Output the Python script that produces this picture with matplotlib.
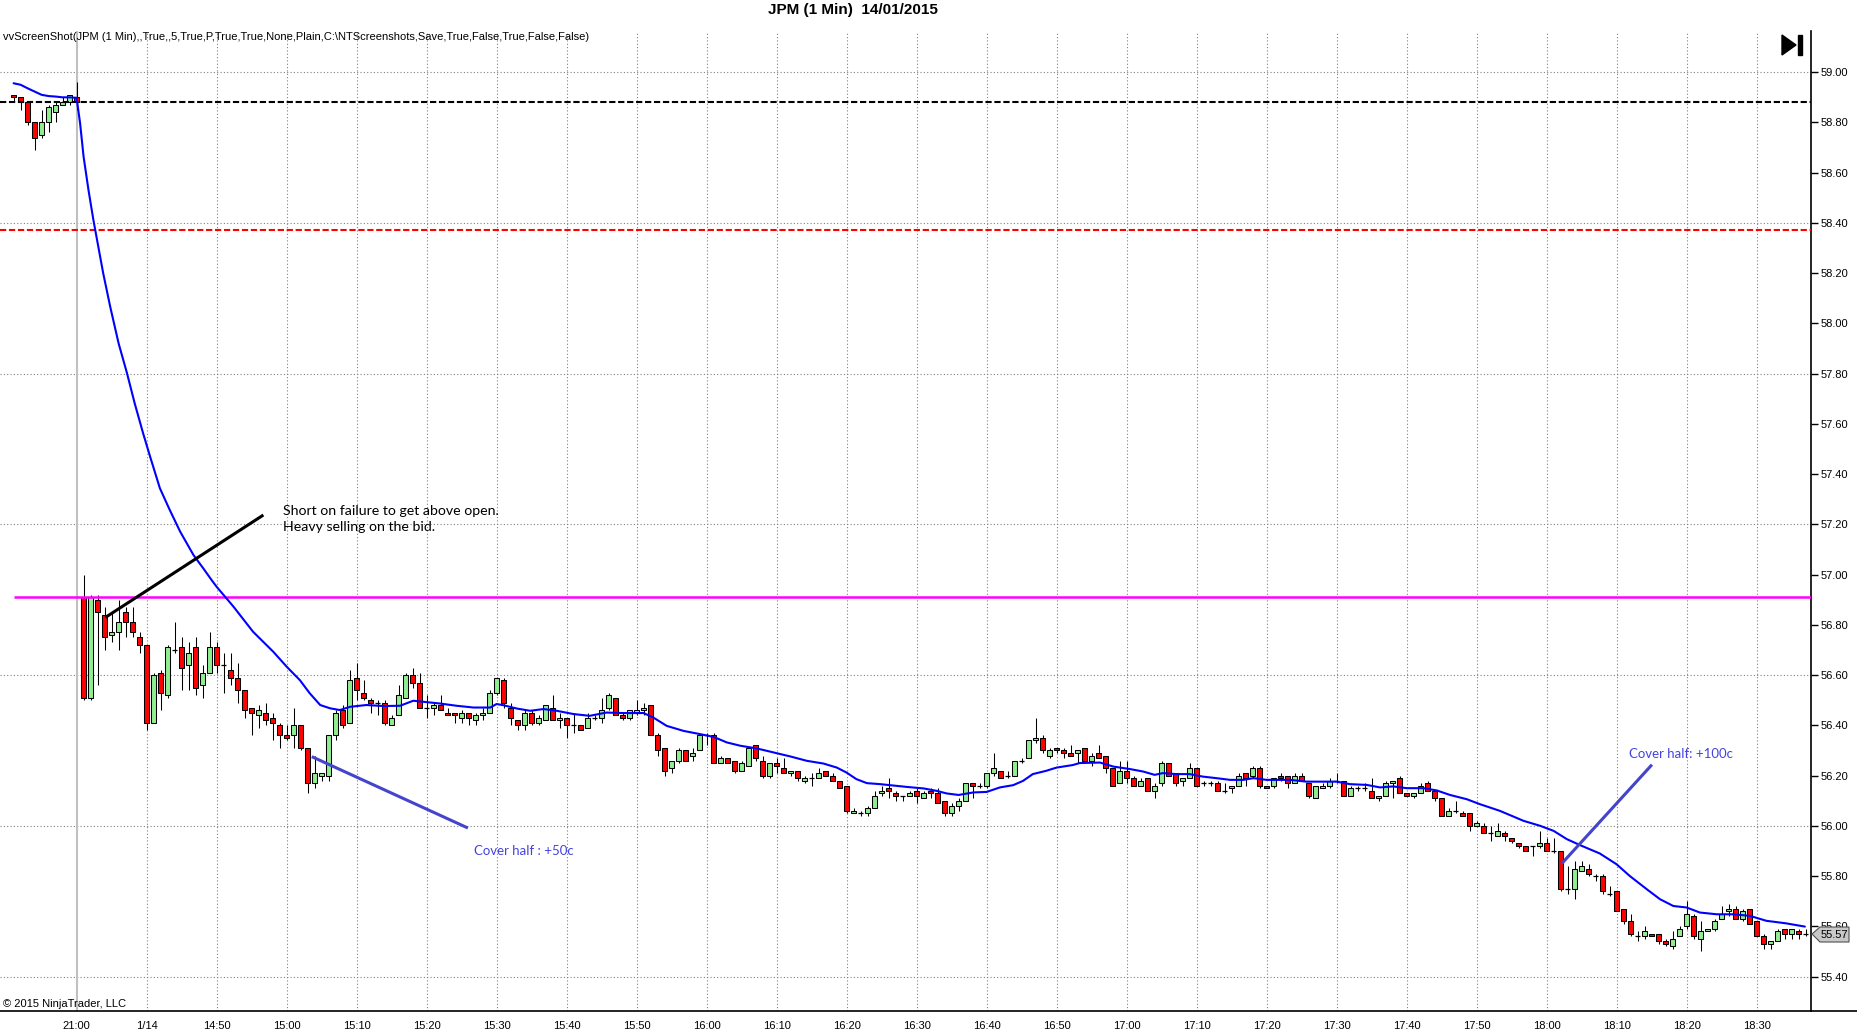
import numpy as np
import matplotlib
matplotlib.use("Agg")
import matplotlib.pyplot as plt
from matplotlib.patches import Polygon, Rectangle
from matplotlib.lines import Line2D

# === Data: JPM 1 min bars (bar 0 = 21:00 previous day, bar 1 = 14:31) ===
first_bar = -9
opens = [58.91, 58.90, 58.88, 58.80, 58.75, 58.80, 58.84, 58.87, 58.88, 58.90,
         56.91, 56.51, 56.90, 56.84, 56.76, 56.77, 56.85, 56.81, 56.75, 56.72,
         56.41, 56.61, 56.52, 56.70, 56.71, 56.64, 56.71, 56.56, 56.61, 56.71,
         56.64, 56.62, 56.59, 56.54, 56.47, 56.44, 56.45, 56.43, 56.40, 56.36,
         56.36, 56.40, 56.31, 56.17, 56.20, 56.20, 56.36, 56.46, 56.41, 56.59,
         56.53, 56.50, 56.49, 56.49, 56.40, 56.44, 56.51, 56.60, 56.57, 56.47,
         56.47, 56.48, 56.45, 56.45, 56.43, 56.45, 56.42, 56.44, 56.45, 56.53,
         56.58, 56.47, 56.42, 56.40, 56.45, 56.41, 56.42, 56.47, 56.42, 56.43,
         56.40, 56.40, 56.39, 56.43, 56.43, 56.47, 56.51, 56.44, 56.43, 56.45,
         56.46, 56.48, 56.36, 56.31, 56.23, 56.26, 56.30, 56.28, 56.30, 56.36,
         56.36, 56.25, 56.27, 56.26, 56.22, 56.24, 56.32, 56.26, 56.20, 56.25,
         56.23, 56.21, 56.22, 56.18, 56.19, 56.19, 56.22, 56.20, 56.18, 56.16,
         56.05, 56.05, 56.05, 56.07, 56.13, 56.15, 56.13, 56.12, 56.12, 56.14,
         56.11, 56.14, 56.13, 56.10, 56.05, 56.08, 56.10, 56.17, 56.16, 56.16,
         56.21, 56.22, 56.20, 56.20, 56.26, 56.27, 56.34, 56.35, 56.28, 56.31,
         56.30, 56.29, 56.29, 56.31, 56.26, 56.29, 56.28, 56.23, 56.17, 56.22,
         56.19, 56.16, 56.19, 56.14, 56.17, 56.25, 56.21, 56.18, 56.19, 56.23,
         56.17, 56.17, 56.17, 56.14, 56.15, 56.16, 56.21, 56.20, 56.23, 56.16,
         56.16, 56.20, 56.20, 56.17, 56.20, 56.17, 56.11, 56.15, 56.16, 56.18,
         56.18, 56.12, 56.15, 56.15, 56.14, 56.11, 56.12, 56.17, 56.19, 56.13,
         56.12, 56.13, 56.17, 56.14, 56.11, 56.04, 56.06, 56.05, 56.05, 56.00,
         56.00, 55.97, 55.96, 55.97, 55.95, 55.93, 55.92, 55.92, 55.92, 55.93,
         55.90, 55.90, 55.75, 55.75, 55.82, 55.83, 55.80, 55.80, 55.73, 55.74,
         55.67, 55.62, 55.56, 55.56, 55.57, 55.57, 55.54, 55.52, 55.56, 55.60,
         55.64, 55.55, 55.58, 55.59, 55.63, 55.66, 55.67, 55.63, 55.67, 55.62,
         55.56, 55.53, 55.54, 55.59, 55.57, 55.58, 55.57]
highs = [58.91, 58.90, 58.88, 58.80, 58.85, 58.87, 58.88, 58.90, 58.91, 58.96,
         57.00, 56.92, 56.92, 56.87, 56.85, 56.90, 56.87, 56.87, 56.77, 56.72,
         56.61, 56.62, 56.72, 56.81, 56.75, 56.73, 56.75, 56.64, 56.77, 56.73,
         56.69, 56.69, 56.65, 56.54, 56.47, 56.48, 56.49, 56.45, 56.41, 56.40,
         56.47, 56.40, 56.31, 56.28, 56.21, 56.36, 56.46, 56.48, 56.62, 56.65,
         56.58, 56.51, 56.50, 56.50, 56.44, 56.56, 56.61, 56.63, 56.61, 56.52,
         56.49, 56.52, 56.47, 56.45, 56.46, 56.45, 56.45, 56.47, 56.54, 56.59,
         56.59, 56.49, 56.42, 56.46, 56.46, 56.44, 56.48, 56.52, 56.45, 56.43,
         56.45, 56.40, 56.45, 56.44, 56.51, 56.53, 56.51, 56.45, 56.46, 56.50,
         56.49, 56.48, 56.37, 56.31, 56.26, 56.31, 56.30, 56.31, 56.36, 56.37,
         56.37, 56.28, 56.27, 56.26, 56.26, 56.31, 56.32, 56.28, 56.25, 56.27,
         56.27, 56.22, 56.22, 56.20, 56.21, 56.23, 56.22, 56.21, 56.18, 56.16,
         56.07, 56.06, 56.08, 56.14, 56.16, 56.19, 56.14, 56.12, 56.14, 56.15,
         56.14, 56.15, 56.15, 56.10, 56.09, 56.11, 56.17, 56.17, 56.17, 56.21,
         56.29, 56.22, 56.22, 56.26, 56.27, 56.34, 56.43, 56.36, 56.31, 56.31,
         56.31, 56.32, 56.30, 56.31, 56.29, 56.32, 56.28, 56.23, 56.26, 56.26,
         56.20, 56.19, 56.19, 56.17, 56.26, 56.25, 56.21, 56.19, 56.25, 56.23,
         56.18, 56.18, 56.18, 56.17, 56.16, 56.21, 56.21, 56.24, 56.24, 56.16,
         56.19, 56.21, 56.20, 56.21, 56.21, 56.17, 56.16, 56.17, 56.19, 56.21,
         56.18, 56.16, 56.16, 56.17, 56.19, 56.12, 56.18, 56.18, 56.20, 56.13,
         56.13, 56.17, 56.18, 56.14, 56.11, 56.07, 56.10, 56.06, 56.05, 56.02,
         56.01, 56.00, 56.01, 55.98, 55.95, 55.93, 55.92, 55.92, 55.98, 55.95,
         55.95, 55.90, 55.84, 55.86, 55.86, 55.85, 55.81, 55.81, 55.76, 55.74,
         55.67, 55.65, 55.58, 55.60, 55.57, 55.57, 55.55, 55.58, 55.60, 55.70,
         55.65, 55.62, 55.59, 55.63, 55.68, 55.69, 55.68, 55.67, 55.67, 55.62,
         55.57, 55.54, 55.59, 55.59, 55.59, 55.59, 55.59]
lows = [58.88, 58.85, 58.79, 58.69, 58.74, 58.76, 58.80, 58.87, 58.87, 58.85,
        56.50, 56.50, 56.56, 56.70, 56.73, 56.70, 56.75, 56.75, 56.69, 56.38,
        56.41, 56.46, 56.51, 56.69, 56.54, 56.54, 56.52, 56.51, 56.61, 56.61,
        56.53, 56.56, 56.49, 56.43, 56.36, 56.39, 56.40, 56.34, 56.31, 56.34,
        56.31, 56.30, 56.13, 56.15, 56.18, 56.18, 56.34, 56.39, 56.41, 56.50,
        56.50, 56.45, 56.44, 56.40, 56.40, 56.44, 56.51, 56.55, 56.47, 56.43,
        56.44, 56.46, 56.44, 56.41, 56.41, 56.40, 56.40, 56.42, 56.45, 56.52,
        56.47, 56.40, 56.38, 56.38, 56.40, 56.40, 56.42, 56.42, 56.39, 56.35,
        56.37, 56.38, 56.39, 56.42, 56.41, 56.46, 56.44, 56.42, 56.42, 56.44,
        56.44, 56.36, 56.28, 56.20, 56.21, 56.25, 56.26, 56.26, 56.30, 56.32,
        56.25, 56.25, 56.25, 56.21, 56.22, 56.24, 56.26, 56.19, 56.19, 56.21,
        56.21, 56.20, 56.18, 56.17, 56.16, 56.19, 56.20, 56.18, 56.15, 56.05,
        56.05, 56.04, 56.04, 56.07, 56.12, 56.11, 56.10, 56.10, 56.12, 56.09,
        56.11, 56.11, 56.09, 56.04, 56.04, 56.06, 56.10, 56.11, 56.15, 56.15,
        56.20, 56.19, 56.19, 56.20, 56.25, 56.27, 56.33, 56.29, 56.27, 56.29,
        56.27, 56.28, 56.25, 56.26, 56.24, 56.27, 56.21, 56.16, 56.17, 56.17,
        56.16, 56.16, 56.14, 56.11, 56.16, 56.20, 56.16, 56.16, 56.19, 56.16,
        56.16, 56.16, 56.14, 56.13, 56.13, 56.16, 56.16, 56.19, 56.15, 56.15,
        56.15, 56.18, 56.15, 56.17, 56.18, 56.11, 56.11, 56.15, 56.15, 56.17,
        56.12, 56.12, 56.14, 56.14, 56.11, 56.10, 56.12, 56.11, 56.13, 56.12,
        56.11, 56.13, 56.14, 56.10, 56.04, 56.04, 56.05, 56.04, 55.98, 56.00,
        55.97, 55.94, 55.96, 55.94, 55.93, 55.91, 55.90, 55.88, 55.91, 55.90,
        55.89, 55.74, 55.73, 55.71, 55.82, 55.80, 55.78, 55.73, 55.72, 55.66,
        55.61, 55.56, 55.54, 55.55, 55.56, 55.53, 55.52, 55.51, 55.56, 55.59,
        55.55, 55.50, 55.58, 55.58, 55.63, 55.64, 55.63, 55.62, 55.61, 55.56,
        55.51, 55.51, 55.54, 55.55, 55.55, 55.55, 55.56]
closes = [58.90, 58.88, 58.80, 58.74, 58.80, 58.86, 58.87, 58.88, 58.91, 58.88,
          56.51, 56.91, 56.85, 56.75, 56.77, 56.81, 56.81, 56.77, 56.72, 56.41,
          56.60, 56.53, 56.71, 56.70, 56.63, 56.69, 56.55, 56.61, 56.71, 56.64,
          56.64, 56.59, 56.54, 56.46, 56.45, 56.46, 56.42, 56.41, 56.36, 56.35,
          56.40, 56.31, 56.17, 56.21, 56.21, 56.36, 56.45, 56.40, 56.58, 56.54,
          56.51, 56.49, 56.49, 56.41, 56.43, 56.52, 56.60, 56.57, 56.47, 56.47,
          56.48, 56.46, 56.44, 56.44, 56.45, 56.43, 56.44, 56.45, 56.53, 56.59,
          56.49, 56.43, 56.40, 56.45, 56.41, 56.43, 56.48, 56.42, 56.43, 56.40,
          56.40, 56.38, 56.43, 56.43, 56.46, 56.52, 56.44, 56.43, 56.46, 56.46,
          56.47, 56.36, 56.30, 56.22, 56.26, 56.30, 56.26, 56.29, 56.36, 56.36,
          56.25, 56.27, 56.25, 56.22, 56.25, 56.31, 56.27, 56.20, 56.25, 56.24,
          56.21, 56.22, 56.19, 56.19, 56.19, 56.21, 56.20, 56.18, 56.15, 56.06,
          56.06, 56.05, 56.07, 56.12, 56.14, 56.14, 56.12, 56.12, 56.13, 56.12,
          56.13, 56.13, 56.09, 56.05, 56.08, 56.10, 56.17, 56.16, 56.16, 56.21,
          56.23, 56.19, 56.20, 56.26, 56.26, 56.34, 56.35, 56.30, 56.30, 56.30,
          56.29, 56.28, 56.30, 56.26, 56.28, 56.27, 56.23, 56.16, 56.22, 56.19,
          56.16, 56.18, 56.14, 56.16, 56.25, 56.20, 56.17, 56.19, 56.23, 56.16,
          56.17, 56.17, 56.14, 56.14, 56.16, 56.20, 56.19, 56.23, 56.16, 56.15,
          56.19, 56.19, 56.17, 56.20, 56.18, 56.12, 56.16, 56.16, 56.18, 56.18,
          56.12, 56.15, 56.15, 56.15, 56.11, 56.12, 56.17, 56.18, 56.13, 56.12,
          56.13, 56.16, 56.14, 56.11, 56.04, 56.06, 56.06, 56.04, 56.00, 56.01,
          55.97, 55.97, 55.98, 55.96, 55.94, 55.92, 55.90, 55.92, 55.93, 55.90,
          55.90, 55.75, 55.75, 55.83, 55.84, 55.81, 55.80, 55.74, 55.73, 55.66,
          55.62, 55.57, 55.56, 55.58, 55.56, 55.54, 55.53, 55.55, 55.59, 55.65,
          55.56, 55.58, 55.59, 55.62, 55.65, 55.67, 55.63, 55.66, 55.61, 55.56,
          55.53, 55.54, 55.58, 55.57, 55.59, 55.57, 55.57]

# moving average: (bar, price)
ma_points = [(-9, 58.956), (-8, 58.95), (-7, 58.936), (-6, 58.923), (-5, 58.91),
             (-4, 58.905), (-3, 58.903), (-2, 58.90), (-1, 58.90), (0, 58.898),
             (0.5, 58.797), (1.0, 58.664), (1.7, 58.531), (2.4, 58.412),
             (3.1, 58.306), (3.8, 58.20), (4.8, 58.067), (6.0, 57.921),
             (7.2, 57.802), (8.3, 57.682), (9.5, 57.563), (10.5, 57.47),
             (11.9, 57.344), (13.3, 57.258), (14.8, 57.171), (16.7, 57.078),
             (18.1, 57.025), (19.3, 56.978), (20.0, 56.952), (22.4, 56.873),
             (25.2, 56.773), (28.1, 56.693), (30.0, 56.634), (31.9, 56.58),
             (33.3, 56.528), (34.8, 56.481), (36.2, 56.468), (37.6, 56.461),
             (39.1, 56.474), (41.4, 56.481), (43.8, 56.477), (46.2, 56.478),
             (48.1, 56.498), (49.5, 56.494), (51.9, 56.487), (54.3, 56.478),
             (56.7, 56.471), (59.1, 56.471), (60.0, 56.485), (61.0, 56.48),
             (62.9, 56.467), (64.8, 56.458), (66.7, 56.465), (68.6, 56.458),
             (71.0, 56.445), (73.3, 56.438), (75.7, 56.451), (78.1, 56.449),
             (81.0, 56.449), (82.4, 56.431), (84.3, 56.398), (86.7, 56.378),
             (89.1, 56.365), (91.0, 56.354), (92.9, 56.332), (94.8, 56.319),
             (97.2, 56.308), (99.6, 56.292), (102.0, 56.276), (104.3, 56.259),
             (106.7, 56.248), (108.6, 56.232), (110.0, 56.212), (111.4, 56.186),
             (112.9, 56.17), (114.8, 56.166), (116.2, 56.162), (118.6, 56.155),
             (121.0, 56.149), (122.9, 56.139), (124.3, 56.129), (126.0, 56.123),
             (128.1, 56.133), (130.0, 56.135), (131.9, 56.153), (133.8, 56.162),
             (135.2, 56.179), (136.6, 56.206), (138.5, 56.219), (140.0, 56.232),
             (142.3, 56.242), (143.3, 56.25), (146.2, 56.252), (148.1, 56.236),
             (150.5, 56.226), (152.4, 56.216), (154.0, 56.203), (155.2, 56.21),
             (157.1, 56.206), (159.0, 56.206), (160.9, 56.196), (162.8, 56.19),
             (164.8, 56.183), (166.7, 56.183), (168.1, 56.19), (170.0, 56.183),
             (173.4, 56.183), (175.7, 56.176), (178.1, 56.176), (180.0, 56.176),
             (181.9, 56.166), (184.3, 56.163), (186.2, 56.153), (188.1, 56.157),
             (190.0, 56.15), (192.4, 56.15), (194.3, 56.141), (196.2, 56.123),
             (198.6, 56.106), (200.5, 56.086), (203.3, 56.06), (206.7, 56.02),
             (209.1, 56.00), (211.0, 55.98), (212.9, 55.947), (214.8, 55.923),
             (217.6, 55.89), (220.0, 55.847), (221.9, 55.80), (224.3, 55.748),
             (226.2, 55.708), (228.1, 55.681), (230.0, 55.675), (231.9, 55.655),
             (234.3, 55.648), (236.6, 55.648), (239.0, 55.642), (241.4, 55.622),
             (244.2, 55.612), (246.9, 55.599)]

prior_close = 58.88
red_level = 58.37
day_open = 56.91
last_price = 55.57

tick_bars = list(range(0, 241, 10))
tick_labels = ["21:00", "1/14", "14:50", "15:00", "15:10", "15:20", "15:30", "15:40",
               "15:50", "16:00", "16:10", "16:20", "16:30", "16:40", "16:50", "17:00",
               "17:10", "17:20", "17:30", "17:40", "17:50", "18:00", "18:10", "18:20",
               "18:30"]

# === Figure ===
W, H = 1858, 1034
fig = plt.figure(figsize=(W / 100, H / 100), dpi=100)
ax = fig.add_axes([0, 1 - 1010.5 / H, 1811 / W, (1010.5 - 31) / H])
ax.set_xlim(-10.94, 247.77)
ax.set_ylim(55.265, 59.164)

bars = np.arange(first_bar, first_bar + len(opens))
o = np.array(opens); h = np.array(highs); l = np.array(lows); c = np.array(closes)

# grid
for b in tick_bars[1:]:
    ax.axvline(b, color="#808080", lw=0.8, ls=(0, (1, 2)), zorder=0.5)
ax.axvline(0, color="#c0c0c0", lw=1.5, zorder=0.6)
for p in np.arange(55.4, 59.01, 0.6):
    ax.axhline(p, color="#808080", lw=0.8, ls=(0, (1, 2)), zorder=0.5)

# candles
ax.vlines(bars, l, h, color="black", lw=0.75, zorder=2)
up = c > o
down = c < o
flat = c == o
bw = 0.62
ax.bar(bars[up], (c - o)[up], bottom=o[up], width=bw, color="#90ee90",
       edgecolor="black", linewidth=0.75, zorder=3)
ax.bar(bars[down], (o - c)[down], bottom=c[down], width=bw, color="#ff0000",
       edgecolor="black", linewidth=0.75, zorder=3)
ax.hlines(c[flat], bars[flat] - bw / 2, bars[flat] + bw / 2, color="black", lw=0.9, zorder=3)

# level lines
ax.axhline(prior_close, color="black", lw=1.5, ls=(0, (3, 1.3)), zorder=3.5)
ax.axhline(red_level, color="#ff0000", lw=1.5, ls=(0, (3, 1.3)), zorder=3.5)
ax.hlines(day_open, first_bar, 247.77, color="#ff00ff", lw=1.8, zorder=3.5)

# moving average
ma_x = [pt[0] for pt in ma_points]
ma_y = [pt[1] for pt in ma_points]
ax.plot(ma_x, ma_y, color="#0000ff", lw=1.5, zorder=4, solid_capstyle="round")

# drawing objects
ax.plot([4.3, 26.5], [56.833, 57.234], color="black", lw=2.2, zorder=5)
ax.plot([33.8, 55.7], [56.273, 55.994], color="#4444cc", lw=2.2, zorder=5)
ax.plot([212.3, 224.9], [55.854, 56.239], color="#4444cc", lw=2.2, zorder=5)
ax.text(29.5, 57.222, "Short on failure to get above open.\nHeavy selling on the bid.",
        family="Lato", fontsize=10.2, color="black", va="center", ha="left",
        linespacing=1.45, zorder=6)
ax.text(56.8, 55.90, "Cover half : +50c", family="Lato", fontsize=9.5,
        color="#4444dd", va="center", ha="left", zorder=6)
ax.text(221.8, 56.285, "Cover half: +100c", family="Lato", fontsize=9.5,
        color="#4444dd", va="center", ha="left", zorder=6)

# axes styling
for side in ["left", "top"]:
    ax.spines[side].set_visible(False)
ax.spines["right"].set_linewidth(1.2)
ax.spines["bottom"].set_linewidth(1.2)
ax.yaxis.tick_right()
ax.set_yticks(np.round(np.arange(55.4, 59.01, 0.2), 2))
ax.set_yticklabels([f"{v:.2f}" for v in np.arange(55.4, 59.01, 0.2)])
ax.tick_params(axis="y", direction="out", length=5, width=1, pad=2, labelsize=8)
ax.set_xticks(tick_bars)
ax.set_xticklabels(tick_labels)
ax.tick_params(axis="x", length=0, pad=7.5, labelsize=8)
for lab in ax.get_xticklabels() + ax.get_yticklabels():
    lab.set_family("Liberation Sans")

# bottom axis line under the price scale
fig.add_artist(Line2D([1811 / W, 1], [1 - 1010.5 / H] * 2, color="black", lw=1.2))

# header / footer texts
fig.text(853 / W, 1 - 10 / H, "JPM (1 Min)  14/01/2015", ha="center", va="center",
         family="Liberation Sans", fontsize=11, fontweight="bold")
fig.text(3 / W, 1 - 37 / H,
         "vvScreenShot(JPM (1 Min),,True,,5,True,P,True,True,None,Plain,"
         "C:\\NTScreenshots,Save,True,False,True,False,False)",
         ha="left", va="center", family="Liberation Sans", fontsize=8)
fig.text(3 / W, 1 - 1004 / H, "\u00a9 2015 NinjaTrader, LLC", ha="left", va="center",
         family="Liberation Sans", fontsize=8)

# "go to end" button
def fx(px):
    return px / W

def fy(py):
    return 1 - py / H

fig.add_artist(Polygon([(fx(1782), fy(35)), (fx(1782), fy(55)), (fx(1796), fy(45))],
                       closed=True, color="black", transform=fig.transFigure))
fig.add_artist(Rectangle((fx(1798), fy(55)), fx(4), 20 / H, color="black",
                         transform=fig.transFigure))

# last price tag
tag = Polygon([(fx(1812), fy(934)), (fx(1820), fy(927)), (fx(1849), fy(927)),
               (fx(1849), fy(942)), (fx(1820), fy(942))], closed=True,
              facecolor="#c8c8c8", edgecolor="#505050", lw=0.8,
              transform=fig.transFigure, zorder=10)
fig.add_artist(tag)
fig.text(fx(1834), fy(934.5), f"{last_price:.2f}", ha="center", va="center",
         family="Liberation Sans", fontsize=8, zorder=11)

fig.savefig("out.png", dpi=100)
